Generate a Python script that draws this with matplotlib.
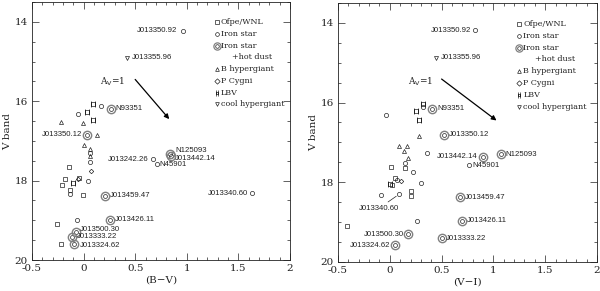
import matplotlib
matplotlib.use("Agg")
import matplotlib.pyplot as plt
from matplotlib.path import Path
from matplotlib.ticker import MultipleLocator

# ---- left panel: (B-V) vs V ----
ofpe_bv = [-0.14, -0.18, -0.04, -0.21, -0.13, -0.01, -0.255, -0.22]
ofpe_v1 = [17.65, 17.96, 17.93, 18.11, 18.23, 18.35, 19.10, 19.59]
iron_bv = [0.96, 0.17, -0.05, 0.06, 0.06, 0.04, -0.13, 1.63, -0.067, 0.67, 0.71]
iron_v1 = [14.22, 16.11, 16.32, 17.30, 17.53, 18.02, 18.33, 18.32, 19.00, 17.46, 17.58]
dust_bv = [0.27, 0.036, 0.84, 0.85, 0.21, 0.256, -0.074, -0.11, -0.09]
dust_v1 = [16.19, 16.84, 17.32, 17.38, 18.38, 18.98, 19.29, 19.42, 19.59]
bhyp_bv = [-0.22, -0.005, 0.127, 0.004, 0.06, 0.062]
bhyp_v1 = [16.53, 16.54, 16.84, 17.09, 17.20, 17.38]
pcyg_bv = [0.07, -0.05]
pcyg_v1 = [17.75, 17.95]
lbv_bv = [0.088, 0.03, 0.094, -0.106]
lbv_v1 = [16.07, 16.28, 16.47, 18.06]
cool_bv = [0.42]
cool_v1 = [14.90]

# ---- right panel: (V-I) vs V ----
ofpe_vi = [0.01, 0.15, 0.05, 0.02, 0.20, 0.20, -0.41]
ofpe_v2 = [17.62, 17.63, 17.90, 18.07, 18.23, 18.34, 19.09]
iron_vi = [0.82, -0.037, 0.32, 0.36, 0.15, 0.22, 0.07, 0.30, -0.08, 0.09, 0.26, 0.76]
iron_v2 = [14.18, 16.31, 16.10, 17.27, 17.51, 17.74, 17.94, 18.02, 18.32, 18.30, 18.98, 17.57]
dust_vi = [0.41, 0.52, 1.07, 0.90, 0.68, 0.70, 0.18, 0.50, 0.053]
dust_v2 = [16.16, 16.81, 17.30, 17.36, 18.38, 18.97, 19.31, 19.41, 19.58]
bhyp_vi = [0.285, 0.09, 0.17, 0.137, 0.18]
bhyp_v2 = [16.84, 17.10, 17.10, 17.21, 17.38]
pcyg_vi = [0.105]
pcyg_v2 = [17.96]
lbv_vi = [0.32, 0.25, 0.285, 0.0]
lbv_v2 = [16.03, 16.21, 16.44, 18.05]
cool_vi = [0.45]
cool_v2 = [14.87]

# reddening vectors (A_V = 1)
av_bv = [0.50, 0.83]
av_bv_v = [15.45, 16.45]
av_vi = [0.50, 1.03]
av_vi_v = [15.41, 16.45]

# named stars (left / right positions)
names = ["J013350.92", "J013355.96", "N93351", "J013350.12", "N125093",
         "J013442.14", "J013242.26", "N45901", "J013459.47", "J013340.60",
         "J013426.11", "J013500.30", "J013333.22", "J013324.62"]
name_bv = [0.96, 0.42, 0.27, 0.036, 0.84, 0.85, 0.67, 0.71, 0.21, 1.63,
           0.256, -0.074, -0.11, -0.09]
name_v1 = [14.22, 14.90, 16.19, 16.84, 17.32, 17.38, 17.46, 17.58, 18.38,
           18.32, 18.98, 19.29, 19.42, 19.59]
name_vi = [0.82, 0.45, 0.41, 0.52, 1.07, 0.90, None, 0.76, 0.68, 0.09,
           0.70, 0.18, 0.50, 0.053]
name_v2 = [14.18, 14.87, 16.16, 16.81, 17.30, 17.36, None, 17.57, 18.38,
           18.30, 18.97, 19.31, 19.41, 19.58]

legend_labels = ["Ofpe/WNL", "Iron star", "Iron star", "+hot dust",
                 "B hypergiant", "P Cygni", "LBV", "cool hypergiant"]

# label placement: (dx px, dy px, ha)
left_offsets = [(-5, 0, "right"), (5, 0, "left"), (4, 0, "left"),
                (-5, 0, "right"), (5, 3, "left"), (4, -2, "left"),
                (-4, 0, "right"), (3, -1, "left"), (5, 0, "left"),
                (-4, 0, "right"), (5, 0, "left"), (4, 2, "left"),
                (5, 0, "left"), (6, -1.5, "left")]
right_offsets = [(-4, 0, "right"), (4, 0, "left"), (5, 0, "left"),
                 (5, 0, "left"), (5, 0, "left"), (-5, 0, "right"),
                 None, (4, 0, "left"), (5, 0, "left"), (-20, -14, "center"),
                 (5, 0, "left"), (-4, 0, "right"), (4, 0, "left"),
                 (-5, 0, "right")]

# LBV symbol: box with legs top and bottom
lbv_marker = Path(
    [(-1, -1), (1, -1), (1, 1), (-1, 1), (-1, -1),
     (-1, 1.8), (-1, -1.8), (1, 1.8), (1, -1.8)],
    [Path.MOVETO, Path.LINETO, Path.LINETO, Path.LINETO, Path.CLOSEPOLY,
     Path.MOVETO, Path.LINETO, Path.MOVETO, Path.LINETO])

SERIF = "DejaVu Serif"
SANS = "Liberation Sans"
INK = "#222222"


def draw_points(ax, ofx, ofy, irx, iry, dx, dy, bx, by, px, py, lx, ly, cx, cy):
    kw = dict(linestyle="none", mfc="none", mec=INK, mew=0.5)
    ax.plot(ofx, ofy, marker="s", ms=2.5, **kw)
    ax.plot(irx, iry, marker="o", ms=3.0, **kw)
    ax.plot(dx, dy, marker="o", ms=2.8, **kw)
    ax.plot(dx, dy, marker="o", ms=6.0, linestyle="none", mfc="none",
            mec="#808080", mew=1.0)
    ax.plot(bx, by, marker="^", ms=2.9, **kw)
    ax.plot(px, py, marker="D", ms=2.3, **kw)
    ax.plot(lx, ly, marker=lbv_marker, ms=4.4, **kw)
    ax.plot(cx, cy, marker="v", ms=2.9, **kw)


def draw_labels(ax, xs, ys, offsets):
    for n, x, y, off in zip(names, xs, ys, offsets):
        if off is None or x is None:
            continue
        ddx, ddy, ha = off
        if ha == "center":
            ax.annotate(n, xy=(x, y), xytext=(ddx * 0.72, ddy * 0.72),
                        textcoords="offset points", ha="center", va="center",
                        fontsize=5.6, family=SANS, color=INK,
                        arrowprops=dict(arrowstyle="-", lw=0.5, color=INK,
                                        shrinkA=0, shrinkB=2.5))
        else:
            ax.annotate(n, xy=(x, y), xytext=(ddx * 0.72, ddy * 0.72),
                        textcoords="offset points", ha=ha, va="center",
                        fontsize=5.6, family=SANS, color=INK)


def draw_legend(ax, x0, y0, step):
    kw = dict(linestyle="none", mfc="none", mec=INK, mew=0.5,
              transform=ax.transAxes, clip_on=False)
    markers = ["s", "o", "dust", None, "^", "D", lbv_marker, "v"]
    for i, (lab, m) in enumerate(zip(legend_labels, markers)):
        y = y0 - i * step
        tx = x0 + 0.016
        if m is None:
            tx = x0 + 0.06
        elif m == "dust":
            ax.plot([x0], [y], marker="o", ms=2.6, **kw)
            ax.plot([x0], [y], marker="o", ms=5.2, linestyle="none",
                    mfc="none", mec="#808080", mew=0.9,
                    transform=ax.transAxes)
        elif m is lbv_marker:
            ax.plot([x0], [y], marker=m, ms=3.8, **kw)
        else:
            ax.plot([x0], [y], marker=m, ms=2.7, **kw)
        ax.text(tx, y, lab, transform=ax.transAxes, fontsize=5.8,
                family=SERIF, va="center", ha="left", color=INK)


def style_axes(ax, xlabel):
    ax.set_xlim(-0.5, 2.0)
    ax.set_ylim(20, 13.5)
    ax.xaxis.set_major_locator(MultipleLocator(0.5))
    ax.xaxis.set_minor_locator(MultipleLocator(0.1))
    ax.yaxis.set_major_locator(MultipleLocator(2))
    ax.yaxis.set_minor_locator(MultipleLocator(0.5))
    ax.tick_params(which="both", direction="in", top=True, right=True,
                   width=0.5, colors=INK, labelsize=7.5, pad=3)
    ax.tick_params(which="major", length=5)
    ax.tick_params(which="minor", length=2.5)
    for lab in ax.get_xticklabels() + ax.get_yticklabels():
        lab.set_family(SERIF)
    ax.xaxis.set_major_formatter(plt.FuncFormatter(
        lambda v, p: "%g" % v if v != 0 else "0"))
    for s in ax.spines.values():
        s.set_linewidth(0.6)
        s.set_color(INK)
    ax.set_xlabel(xlabel, family=SERIF, fontsize=7.5, labelpad=2, color=INK)
    ax.set_ylabel("V band", family=SERIF, fontsize=7.5, labelpad=2, color=INK)


fig = plt.figure(figsize=(6.0, 2.91), dpi=100)
ax1 = fig.add_axes([0.0533, 0.1065, 0.43, 0.8865])
ax2 = fig.add_axes([0.5633, 0.0997, 0.4317, 0.8903])

draw_points(ax1, ofpe_bv, ofpe_v1, iron_bv, iron_v1, dust_bv, dust_v1,
            bhyp_bv, bhyp_v1, pcyg_bv, pcyg_v1, lbv_bv, lbv_v1, cool_bv, cool_v1)
draw_points(ax2, ofpe_vi, ofpe_v2, iron_vi, iron_v2, dust_vi, dust_v2,
            bhyp_vi, bhyp_v2, pcyg_vi, pcyg_v2, lbv_vi, lbv_v2, cool_vi, cool_v2)

draw_labels(ax1, name_bv, name_v1, left_offsets)
draw_labels(ax2, name_vi, name_v2, right_offsets)

for ax, xs, ys, lx, ly in [(ax1, av_bv, av_bv_v, 0.40, 15.52),
                           (ax2, av_vi, av_vi_v, 0.417, 15.47)]:
    ax.annotate("", xy=(xs[1], ys[1]), xytext=(xs[0], ys[0]),
                arrowprops=dict(arrowstyle="-|>", lw=0.9, color="k",
                                mutation_scale=7, shrinkA=0, shrinkB=0))
    ax.text(lx, ly, r"A$_{\rm V}$=1", family=SERIF, fontsize=6.5,
            ha="right", va="center", color=INK)

draw_legend(ax1, 0.716, 0.921, 0.0453)
draw_legend(ax2, 0.699, 0.919, 0.0456)

style_axes(ax1, "(B\u2212V)")
style_axes(ax2, "(V\u2212I)")

fig.savefig("out.png", dpi=100)
